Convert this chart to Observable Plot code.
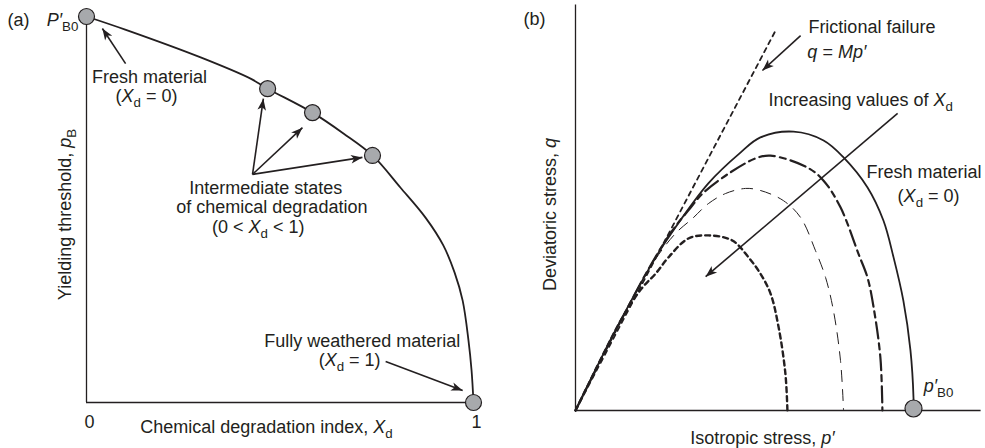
<!DOCTYPE html>
<html><head><meta charset="utf-8">
<script src="https://cdn.jsdelivr.net/npm/d3@7"></script>
<script src="https://cdn.jsdelivr.net/npm/@observablehq/plot@0.6"></script>
<style>
html,body{margin:0;padding:0;background:#fff;}
#fig{position:relative;width:985px;height:448px;overflow:hidden;}
#fig svg{position:absolute;top:0;}
</style></head><body><div id="fig"></div>
<script>
// ---------- Panel (a): yielding threshold vs chemical degradation index ----------
const degradationIndex = [0, 0.1, 0.295, 0.424, 0.468, 0.584, 0.664, 0.739, 0.811, 0.876, 0.922, 0.951, 0.972, 0.987, 0.995, 1];
const yieldThreshold   = [1, 0.966, 0.894, 0.839, 0.813, 0.751, 0.697, 0.640, 0.557, 0.479, 0.407, 0.337, 0.264, 0.161, 0.083, 0];
const stateIndex     = [0, 0.468, 0.584, 0.739, 1];
const stateThreshold = [1, 0.813, 0.751, 0.640, 0];
const ticksA = [0, 1];

const labelsA = [
  {text: "(a)", x: -0.204, y: 0.990, anchor: "start"},
  {text: "*P′*_{B0}", x: -0.021, y: 0.990, anchor: "end"},
  {text: "Fresh material", x: 0.163, y: 0.842, anchor: "middle"},
  {text: "(*X*_{d} = 0)", x: 0.155, y: 0.793, anchor: "middle"},
  {text: "Intermediate states", x: 0.463, y: 0.554, anchor: "middle"},
  {text: "of chemical degradation", x: 0.479, y: 0.505, anchor: "middle"},
  {text: "(0 < *X*_{d} < 1)", x: 0.444, y: 0.453, anchor: "middle"},
  {text: "Fully weathered material", x: 0.966, y: 0.158, anchor: "end"},
  {text: "(*X*_{d} = 1)", x: 0.760, y: 0.109, anchor: "end"},
  {text: "Chemical degradation index, *X*_{d}", x: 0.465, y: -0.065, anchor: "middle"}
];
const yTitleA = [{text: "Yielding threshold, *p*_{B}", x: -0.054, y: 0.487}];
const arrowsA = [
  {x1: 0.101, y1: 0.878, x2: 0.041, y2: 0.969},
  {x1: 0.429, y1: 0.591, x2: 0.457, y2: 0.787},
  {x1: 0.429, y1: 0.591, x2: 0.558, y2: 0.712},
  {x1: 0.429, y1: 0.591, x2: 0.713, y2: 0.635},
  {x1: 0.773, y1: 0.106, x2: 0.972, y2: 0.031}
];

// ---------- Panel (b): yield surfaces in p'-q plane ----------
const pFresh = [0, 0.118, 0.237, 0.275, 0.393, 0.488, 0.547, 0.645, 0.734, 0.793, 0.864, 0.911, 0.941, 0.970, 0.991, 1.0, 1.0];
const qFresh = [0, 0.237, 0.453, 0.512, 0.672, 0.763, 0.808, 0.825, 0.799, 0.749, 0.660, 0.562, 0.453, 0.325, 0.178, 0.038, 0];
const pDeg1 = [0, 0.118, 0.222, 0.287, 0.334, 0.376, 0.453, 0.533, 0.577, 0.686, 0.734, 0.784, 0.837, 0.864, 0.882, 0.902, 0.908];
const qDeg1 = [0, 0.234, 0.429, 0.533, 0.592, 0.642, 0.701, 0.746, 0.754, 0.719, 0.680, 0.601, 0.464, 0.393, 0.305, 0.157, 0];
const pDeg2 = [0, 0.118, 0.222, 0.296, 0.346, 0.393, 0.444, 0.503, 0.547, 0.615, 0.666, 0.710, 0.740, 0.763, 0.784, 0.793];
const qDeg2 = [0, 0.234, 0.426, 0.524, 0.568, 0.612, 0.642, 0.657, 0.651, 0.621, 0.571, 0.473, 0.393, 0.296, 0.148, 0];
const pDeg3 = [0, 0.118, 0.157, 0.198, 0.237, 0.275, 0.334, 0.393, 0.464, 0.512, 0.547, 0.577, 0.601, 0.621, 0.627];
const qDeg3 = [0, 0.237, 0.305, 0.364, 0.405, 0.453, 0.509, 0.518, 0.503, 0.453, 0.405, 0.346, 0.246, 0.109, 0];
const pFailure = [0, 0.595];
const qFailure = [0, 1.130];
const ticksB = [1];

const labelsB = [
  {text: "(b)", x: -0.154, y: 1.157, anchor: "start"},
  {text: "Frictional failure", x: 0.689, y: 1.133, anchor: "start"},
  {text: "*q* = *Mp′*", x: 0.686, y: 1.059, anchor: "start"},
  {text: "Increasing values of *X*_{d}", x: 0.571, y: 0.917, anchor: "start"},
  {text: "Fresh material", x: 0.861, y: 0.704, anchor: "start"},
  {text: "(*X*_{d} = 0)", x: 0.953, y: 0.633, anchor: "start"},
  {text: "Isotropic stress, *p′*", x: 0.553, y: -0.083, anchor: "middle"},
  {text: "*p′*_{B0}", x: 1.030, y: 0.071, anchor: "start"}
];
const yTitleB = [{text: "Deviatoric stress, *q*", x: -0.074, y: 0.580}];
const arrowsB = [
  {x1: 0.666, y1: 1.109, x2: 0.553, y2: 1.006},
  {x1: 0.953, y1: 0.879, x2: 0.385, y2: 0.396}
];

// ---------- styling ----------
const ink = "#231f20";
const grey = "#a7a9ac";
const font = '"Liberation Sans", Arial, Helvetica, sans-serif';
const style = {fontFamily: font, fontSize: "18px", color: ink, background: "transparent", overflow: "visible"};

const stealth = {draw(ctx) { ctx.moveTo(0, 0); ctx.lineTo(4.3, 11.5); ctx.lineTo(0, 8.5); ctx.lineTo(-4.3, 11.5); ctx.closePath(); }};

function withAngles(arrows, xd, xr, yd, yr) {
  const sx = d3.scaleLinear(xd, xr), sy = d3.scaleLinear(yd, yr);
  return arrows.map(a => ({...a, angle: Math.atan2(sx(a.x2) - sx(a.x1), -(sy(a.y2) - sy(a.y1))) * 180 / Math.PI}));
}

function textMarks(labels) {
  return ["start", "middle", "end"].map(anchor =>
    Plot.text(labels.filter(d => d.anchor === anchor), {x: "x", y: "y", text: "text", textAnchor: anchor}));
}

function rich(svg) {
  svg.querySelectorAll("text").forEach(t => {
    const s = t.textContent;
    if (!s.includes("*") && !s.includes("_{")) return;
    while (t.firstChild) t.removeChild(t.firstChild);
    const re = /\*([^*]+)\*|_\{([^}]+)\}|([^*_]+)/g;
    let m, shift = 0;
    while ((m = re.exec(s))) {
      const ts = document.createElementNS("http://www.w3.org/2000/svg", "tspan");
      let target = 0;
      if (m[1] !== undefined) { ts.textContent = m[1]; ts.setAttribute("font-style", "italic"); }
      else if (m[2] !== undefined) { ts.textContent = m[2]; ts.setAttribute("font-size", "0.74em"); target = 5; }
      else ts.textContent = m[3];
      if (target !== shift) { ts.setAttribute("dy", target - shift); shift = target; }
      t.appendChild(ts);
    }
  });
}

const fig = document.getElementById("fig");

// Panel (a)
const xdA = [0, 1], xrA = [86, 473], ydA = [0, 1], yrA = [402, 16];
const headsA = withAngles(arrowsA, xdA, xrA, ydA, yrA);
const curveA = degradationIndex.map((x, i) => ({x, y: yieldThreshold[i]}));
const statesA = stateIndex.map((x, i) => ({x, y: stateThreshold[i]}));
const plotA = Plot.plot({
  width: 490, height: 448, style,
  x: {domain: xdA, range: xrA, axis: null},
  y: {domain: ydA, range: yrA, axis: null},
  marks: [
    Plot.ruleY([0], {x1: 0, x2: 1, stroke: ink, strokeWidth: 1.3}),
    Plot.ruleX([0], {y1: 0, y2: 1, stroke: ink, strokeWidth: 1.3}),
    Plot.line(curveA, {x: "x", y: "y", curve: "catmull-rom", stroke: ink, strokeWidth: 1.8}),
    Plot.link(headsA, {x1: "x1", y1: "y1", x2: "x2", y2: "y2", stroke: ink, strokeWidth: 1.6}),
    Plot.dot(headsA, {x: "x2", y: "y2", symbol: stealth, rotate: "angle", fill: ink, stroke: "none", r: 5}),
    Plot.dot(statesA, {x: "x", y: "y", r: 8, fill: grey, stroke: ink, strokeWidth: 1.2}),
    Plot.text(ticksA, {x: d => d, y: 0, dy: 20, dx: 3, text: d => String(d)}),
    ...textMarks(labelsA),
    Plot.text(yTitleA, {x: "x", y: "y", text: "text", rotate: -90})
  ]
});
rich(plotA);
plotA.style.left = "0px";
fig.appendChild(plotA);

// Panel (b)
const xdB = [0, 1.2], xrB = [85, 85 + 1.2 * 338], ydB = [0, 1.2], yrB = [410, 410 - 1.2 * 338];
const headsB = withAngles(arrowsB, xdB, xrB, ydB, yrB);
const mk = (ps, qs) => ps.map((p, i) => ({p, q: qs[i]}));
const plotB = Plot.plot({
  width: 495, height: 448, style,
  x: {domain: xdB, range: xrB, axis: null},
  y: {domain: ydB, range: yrB, axis: null},
  marks: [
    Plot.line(mk(pDeg3, qDeg3), {x: "p", y: "q", curve: "catmull-rom", stroke: ink, strokeWidth: 2.4, strokeDasharray: "5,4"}),
    Plot.line(mk(pDeg2, qDeg2), {x: "p", y: "q", curve: "catmull-rom", stroke: ink, strokeWidth: 1, strokeDasharray: "11,8"}),
    Plot.line(mk(pDeg1, qDeg1), {x: "p", y: "q", curve: "catmull-rom", stroke: ink, strokeWidth: 2.2, strokeDasharray: "16,5,6,5"}),
    Plot.line(mk(pFresh, qFresh), {x: "p", y: "q", curve: "catmull-rom", stroke: ink, strokeWidth: 1.8}),
    Plot.line(mk(pFailure, qFailure), {x: "p", y: "q", stroke: ink, strokeWidth: 1.8, strokeDasharray: "4.5,4.5"}),
    Plot.ruleY([0], {x1: 0, x2: 1.2, stroke: ink, strokeWidth: 1.3}),
    Plot.ruleX([0], {y1: 0, y2: 1.2, stroke: ink, strokeWidth: 1.3}),
    Plot.link(headsB, {x1: "x1", y1: "y1", x2: "x2", y2: "y2", stroke: ink, strokeWidth: 1.6}),
    Plot.dot(headsB, {x: "x2", y: "y2", symbol: stealth, rotate: "angle", fill: ink, stroke: "none", r: 5}),
    Plot.dot(ticksB, {x: d => d, y: 0, dy: -2, r: 8.5, fill: grey, stroke: ink, strokeWidth: 1.2}),
    ...textMarks(labelsB),
    Plot.text(yTitleB, {x: "x", y: "y", text: "text", rotate: -90})
  ]
});
rich(plotB);
plotB.style.left = "490px";
fig.appendChild(plotB);
</script></body></html>
